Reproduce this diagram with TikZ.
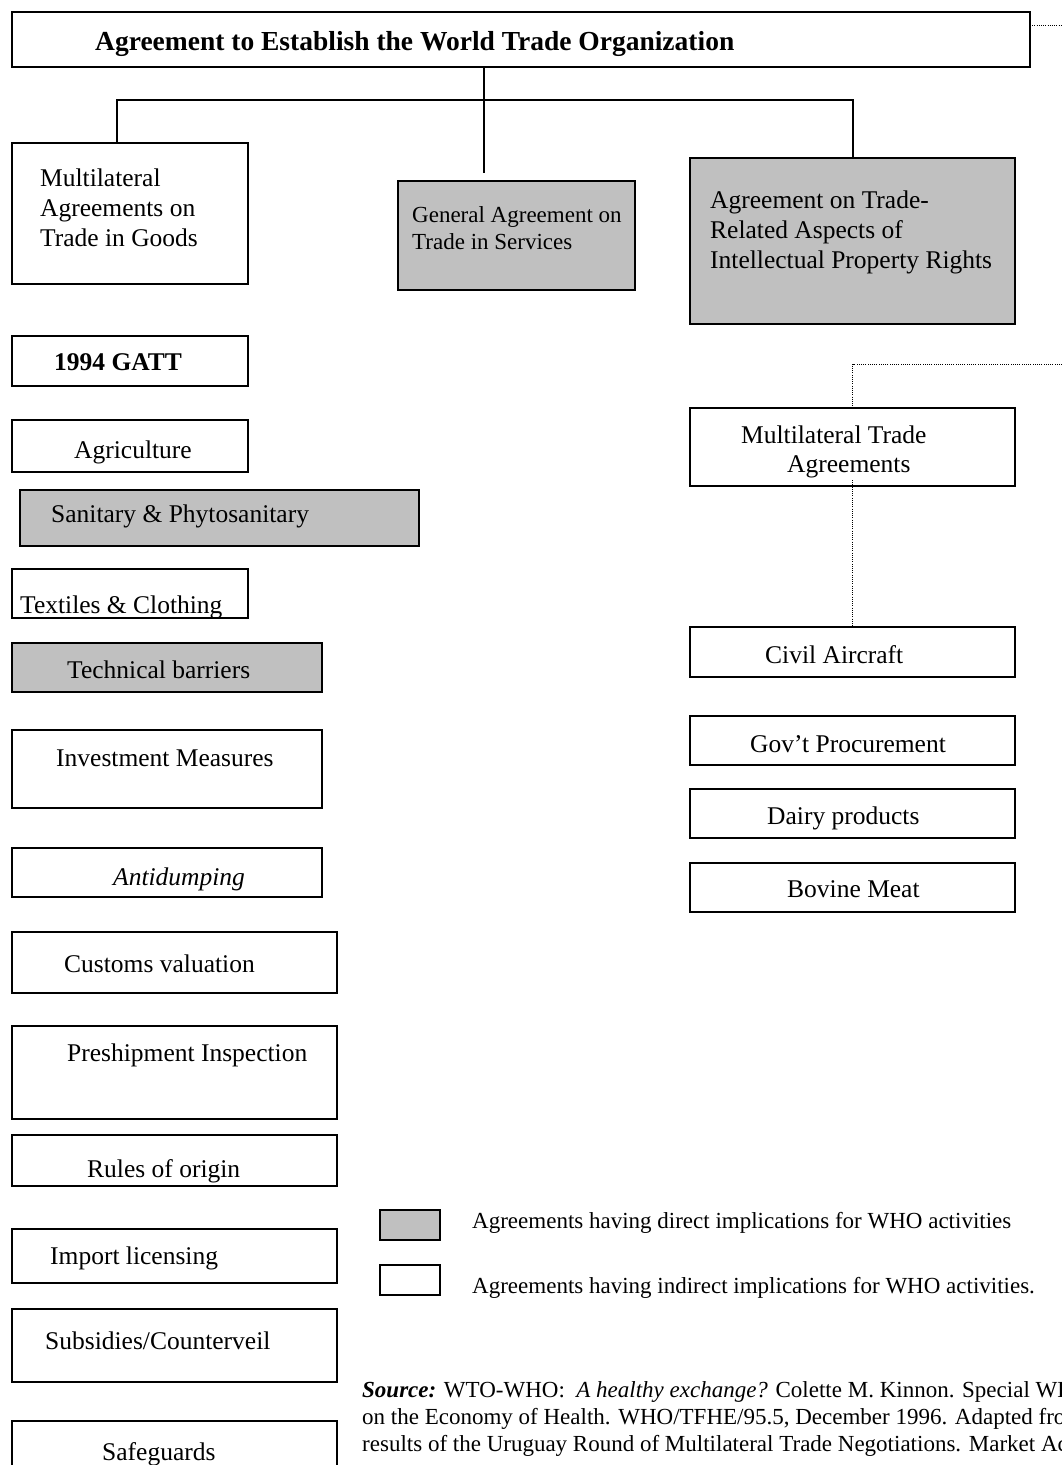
\documentclass[tikz,border=0pt]{standalone}
\usepackage{fontspec}
\setmainfont{Liberation Serif}
\definecolor{boxgray}{RGB}{192,192,192}
\newcommand\abox[6]{\node[#1, minimum width={#4-#2}, minimum height={#5-#3}] (#6) at (#2,#3) {};}
\begin{document}
\begin{tikzpicture}[x=1pt,y=-1pt,
  bx/.style={draw, line width=1.5pt, anchor=north west, inner sep=0pt, outer sep=0pt, fill=white},
  gbx/.style={bx, fill=boxgray},
  tx/.style={anchor=base west, inner sep=0pt, font=\fontsize{25.5}{30}\selectfont},
  stx/.style={anchor=base west, inner sep=0pt, font=\fontsize{23}{27}\selectfont},
  conn/.style={line width=1.3pt},
  dotln/.style={line width=0.9pt, dash pattern=on 0.9pt off 1.3pt}]
\useasboundingbox (0,0) rectangle (1062,1465);
\clip (0,0) rectangle (1062,1465);
\fill[white] (0,0) rectangle (1062,1465);

% title
\abox{bx}{12}{12}{1030}{67}{title}
\node[anchor=base west, inner sep=0pt, font=\fontsize{27.5}{32}\selectfont\bfseries] (title-t) at (95,50) {Agreement to Establish the World Trade Organization};

% second level
\abox{bx}{12}{143}{248}{284}{goods}
\node[tx] (goods-t1) at (40,186) {Multilateral};
\node[tx] (goods-t2) at (40,216) {Agreements on};
\node[tx] (goods-t3) at (40,246) {Trade in Goods};

\abox{gbx}{398}{181}{635}{290}{gats}
\node[stx] (gats-t1) at (412,222) {General Agreement on};
\node[stx] (gats-t2) at (412,249) {Trade in Services};

\abox{gbx}{690}{158}{1015}{324}{trips}
\node[tx] (trips-t1) at (710,208) {Agreement on Trade-};
\node[tx] (trips-t2) at (710,238) {Related Aspects of};
\node[tx] (trips-t3) at (710,268) {Intellectual Property Rights};

% connectors
\coordinate (hl) at (117,100);
\coordinate (hr) at (853,100);
\coordinate (vend) at (484,173);
\draw[conn] (title.south -| vend) -- (vend);
\draw[conn] (hl |- goods.north) -- (hl) -- (hr) -- (hr |- trips.north);

% left column
\abox{bx}{12}{336}{248}{386}{gatt}
\node[tx, font=\fontsize{25.5}{30}\selectfont\bfseries] (gatt-t) at (54,370) {1994 GATT};

\abox{bx}{12}{420}{248}{472}{agri}
\node[tx] (agri-t) at (74,458) {Agriculture};

\abox{gbx}{20}{490}{419}{546}{sps}
\node[tx] (sps-t) at (51,522) {Sanitary \& Phytosanitary};

\abox{bx}{12}{569}{248}{618}{texcl}
\node[tx] (texcl-t) at (20,613) {Textiles \& Clothing};

\abox{gbx}{12}{643}{322}{692}{tbt}
\node[tx] (tbt-t) at (67,678) {Technical barriers};

\abox{bx}{12}{730}{322}{808}{inv}
\node[tx] (inv-t) at (56,766) {Investment Measures};

\abox{bx}{12}{848}{322}{897}{anti}
\node[tx, font=\fontsize{25.5}{30}\selectfont\itshape] (anti-t) at (113,885) {Antidumping};

\abox{bx}{12}{932}{337}{993}{cust}
\node[tx] (cust-t) at (64,972) {Customs valuation};

\abox{bx}{12}{1026}{337}{1119}{pre}
\node[tx] (pre-t) at (67,1061) {Preshipment Inspection};

\abox{bx}{12}{1135}{337}{1186}{roo}
\node[tx] (roo-t) at (87,1177) {Rules of origin};

\abox{bx}{12}{1229}{337}{1283}{imp}
\node[tx] (imp-t) at (50,1264) {Import licensing};

\abox{bx}{12}{1309}{337}{1382}{sub}
\node[tx] (sub-t) at (45,1349) {Subsidies/Counterveil};

\abox{bx}{12}{1421}{337}{1495}{safe}
\node[tx] (safe-t) at (102,1460) {Safeguards};

% right column
\abox{bx}{690}{408}{1015}{486}{mta}
\node[tx] (mta-t1) at (741,443) {Multilateral Trade};
\node[tx] (mta-t2) at (787,472) {Agreements};

\abox{bx}{690}{627}{1015}{677}{civ}
\node[tx] (civ-t) at (765,663) {Civil Aircraft};

\abox{bx}{690}{716}{1015}{765}{gov}
\node[tx] (gov-t) at (750,752) {Gov’t Procurement};

\abox{bx}{690}{789}{1015}{838}{dairy}
\node[tx] (dairy-t) at (767,824) {Dairy products};

\abox{bx}{690}{863}{1015}{912}{bov}
\node[tx] (bov-t) at (787,897) {Bovine Meat};

% dotted connectors
\coordinate (e1) at (1062,25);
\draw[dotln] (title.east |- e1) -- (e1);
\coordinate (e2) at (1062,364);
\draw[dotln] (e2) -- (e2 -| mta.north) -- (mta.north);
\coordinate (m2) at (852.5,480);
\draw[dotln] (m2) -- (civ.north);

% legend
\abox{gbx}{380}{1210}{440}{1240}{lg1}
\node[stx] (lg1-t) at (472,1228) {Agreements having direct implications for WHO activities};
\abox{bx}{380}{1265}{440}{1295}{lg2}
\node[stx] (lg2-t) at (472,1293) {Agreements having indirect implications for WHO activities.};

% source
\node[stx] (src1) at (362,1397) {\textbf{\textit{Source:}} WTO-WHO:\ \ \textit{A healthy exchange?} Colette M. Kinnon. Special WH};
\node[stx] (src2) at (362,1424) {on the Economy of Health. WHO/TFHE/95.5, December 1996. Adapted fro};
\node[stx] (src3) at (362,1451) {results of the Uruguay Round of Multilateral Trade Negotiations. Market Ac};
\end{tikzpicture}
\end{document}
